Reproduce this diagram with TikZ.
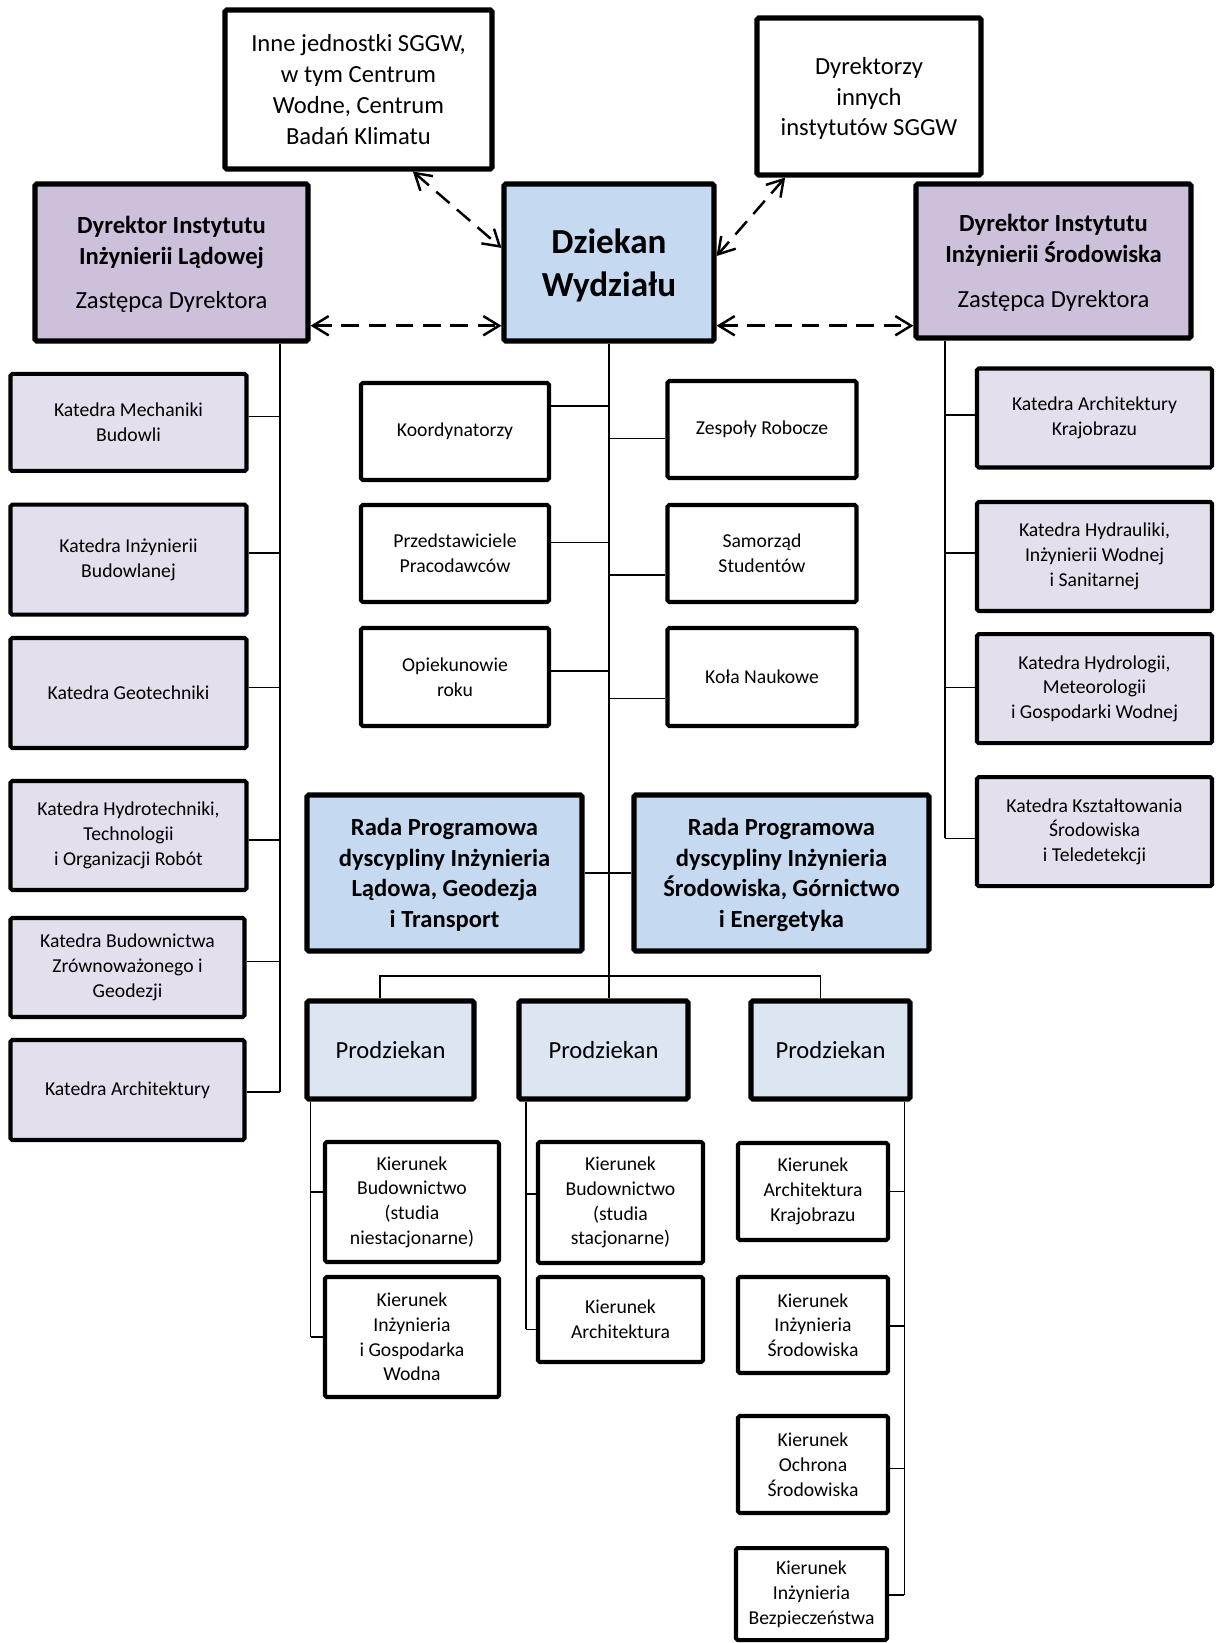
\documentclass[tikz,border=0pt]{standalone}
\usepackage{fontspec}
\setmainfont{Carlito}
\usetikzlibrary{calc,arrows.meta}

\definecolor{instfill}{HTML}{CCC0DA}
\definecolor{katfill}{HTML}{E4DFEC}
\definecolor{deanfill}{HTML}{C5D9F1}
\definecolor{prodfill}{HTML}{DCE6F2}

\tikzset{
	wh/.style 2 args={minimum width=#1*0.02cm, minimum height=#2*0.02cm},
	bigtxt/.style={font=\fontsize{14}{17.5}\selectfont},
	smalltxt/.style={font=\fontsize{11.2}{14.1}\selectfont},
	thickbox/.style={draw, line width=2.9pt, rounded corners=1pt, align=center, inner sep=2pt, text depth=0pt, bigtxt},
	thinbox/.style={draw, line width=2.3pt, rounded corners=1pt, align=center, inner sep=2pt, smalltxt},
	inst/.style={thickbox, fill=instfill},
	dean/.style={thickbox, fill=deanfill},
	prodz/.style={thickbox, fill=prodfill},
	outer/.style={thickbox, fill=white},
	kat/.style={thinbox, fill=katfill},
	cell/.style={thinbox, fill=white},
	conn/.style={line width=0.9pt},
	dlink/.style={line width=1.4pt, dash pattern=on 10pt off 5.5pt,
		{Straight Barb[length=9pt,width=11pt]}-{Straight Barb[length=9pt,width=11pt]}}
}

\def\twig(#1:#2:#3)(#4){%
	\coordinate (#1-t) at ($(#1.north #2)!#3!(#1.south #2)$);
	\draw[conn] (#1-t) -- (#1-t -| #4);}

\begin{document}
\begin{tikzpicture}[x=0.02cm, y=-0.02cm]
			%%%%% START %%%%%
			\useasboundingbox (0,0) rectangle (1215,1643);
			\fill[white] (0,0) rectangle (1215,1643);
			
			% top row
			\node[outer, wh={267}{159}] (inne) at (358.5,89.5) {Inne jednostki SGGW,\\w tym Centrum\\Wodne, Centrum\\Badań Klimatu};
			\node[outer, wh={224}{157}] (dyr) at (869,96.5) {Dyrektorzy\\innych\\instytutów SGGW};
			
			\node[inst, wh={273}{157}] (dil) at (171.5,262.5) {\textbf{Dyrektor Instytutu}\\\textbf{Inżynierii Lądowej}\\[8pt]Zastępca Dyrektora};
			\node[dean, wh={210}{157}, font=\fontsize{20}{24.4}\selectfont\bfseries] (dziekan) at (609,262.5) {Dziekan\\Wydziału};
			\node[inst, wh={275}{154}] (dis) at (1053.5,261) {\textbf{Dyrektor Instytutu}\\\textbf{Inżynierii Środowiska}\\[8pt]Zastępca Dyrektora};
			
			% middle column
			\node[cell, wh={188}{97}] (koord) at (455,431.5) {Koordynatorzy};
			\node[cell, wh={189}{97}] (zesp) at (762,429.5) {Zespoły Robocze};
			\node[cell, wh={188}{97}] (przed) at (455,553.5) {Przedstawiciele\\Pracodawców};
			\node[cell, wh={189}{97}] (samo) at (762,553.5) {Samorząd\\Studentów};
			\node[cell, wh={188}{98}] (opiek) at (455,677) {Opiekunowie\\roku};
			\node[cell, wh={189}{98}] (kola) at (762,677) {Koła Naukowe};
			
			% katedry, left
			\node[kat, wh={236}{97}] (k1) at (128.5,422.4) {Katedra Mechaniki\\Budowli};
			\node[kat, wh={236}{110}] (k2) at (128.5,559.7) {Katedra Inżynierii\\Budowlanej};
			\node[kat, wh={236}{110}] (k3) at (128.5,693) {Katedra Geotechniki};
			\node[kat, wh={236}{109}] (k4) at (128.5,835.5) {Katedra Hydrotechniki,\\Technologii\\i Organizacji Robót};
			\node[kat, wh={234}{99}] (k5) at (127.5,967.5) {Katedra Budownictwa\\Zrównoważonego i\\Geodezji};
			\node[kat, wh={234}{100}] (k6) at (127.5,1090) {Katedra Architektury};
			
			% katedry, right
			\node[kat, wh={235}{99}] (r1) at (1094.5,418) {Katedra Architektury\\Krajobrazu};
			\node[kat, wh={235}{109}] (r2) at (1094.5,556.5) {Katedra Hydrauliki,\\Inżynierii Wodnej\\i Sanitarnej};
			\node[kat, wh={235}{109}] (r3) at (1094.5,688.7) {Katedra Hydrologii,\\Meteorologii\\i Gospodarki Wodnej};
			\node[kat, wh={235}{109}] (r4) at (1094.5,831.7) {Katedra Kształtowania\\Środowiska\\i Teledetekcji};
			
			% rady programowe
			\node[dean, wh={275}{156}, font=\fontsize{14}{17.4}\selectfont\bfseries] (radaL) at (444.5,873) {Rada Programowa\\dyscypliny Inżynieria\\Lądowa, Geodezja\\i Transport};
			\node[dean, wh={295}{156}, font=\fontsize{14}{17.4}\selectfont\bfseries] (radaR) at (781.5,873) {Rada Programowa\\dyscypliny Inżynieria\\Środowiska, Górnictwo\\i Energetyka};
			
			% prodziekani
			\node[prodz, wh={167}{98}] (p1) at (390.5,1050) {Prodziekan};
			\node[prodz, wh={169}{98}] (p2) at (603.5,1050) {Prodziekan};
			\node[prodz, wh={159}{98}] (p3) at (830.5,1050) {Prodziekan};
			
			% kierunki
			\node[cell, wh={174}{120}] (kbn) at (412,1202) {Kierunek\\Budownictwo\\(studia\\niestacjonarne)};
			\node[cell, wh={174}{120}] (kigw) at (412,1337) {Kierunek\\Inżynieria\\i Gospodarka\\Wodna};
			\node[cell, wh={165}{121}] (kbs) at (620.5,1202.5) {Kierunek\\Budownictwo\\(studia\\stacjonarne)};
			\node[cell, wh={165}{85}] (karch) at (620.5,1319.5) {Kierunek\\Architektura};
			\node[cell, wh={150}{97}] (kak) at (813,1191.5) {Kierunek\\Architektura\\Krajobrazu};
			\node[cell, wh={150}{96}] (kis) at (813,1325) {Kierunek\\Inżynieria\\Środowiska};
			\node[cell, wh={150}{97}] (kos) at (813,1464.5) {Kierunek\\Ochrona\\Środowiska};
			\node[cell, wh={151}{92}] (kib) at (811.5,1594) {Kierunek\\Inżynieria\\Bezpieczeństwa};
			
			% dashed links round the dean
			\coordinate (a1) at ($(inne.south west)!0.7!(inne.south east)$);
			\coordinate (a2) at ($(dziekan.north west)!0.41!(dziekan.south west)$);
			\draw[dlink] (a1) -- (a2);
			\coordinate (b1) at ($(dyr.south west)!0.134!(dyr.south east)$);
			\coordinate (b2) at ($(dziekan.north east)!0.46!(dziekan.south east)$);
			\draw[dlink] (b1) -- (b2);
			\coordinate (c1) at ($(dil.north east)!0.89!(dil.south east)$);
			\draw[dlink] (c1) -- (c1 -| dziekan.west);
			\coordinate (d1) at ($(dziekan.north east)!0.89!(dziekan.south east)$);
			\draw[dlink] (d1) -- (d1 -| dis.west);
			
			% left trunk
			\coordinate (ltop) at ($(dil.south west)!0.89!(dil.south east)$);
			\twig(k1:east:0.44)(ltop)
			\twig(k2:east:0.44)(ltop)
			\twig(k3:east:0.45)(ltop)
			\twig(k4:east:0.54)(ltop)
			\twig(k5:east:0.44)(ltop)
			\twig(k6:east:0.52)(ltop)
			\draw[conn] (ltop) -- (ltop |- k6-t);
			
			% right trunk
			\coordinate (rtop) at ($(dis.south west)!0.113!(dis.south east)$);
			\twig(r1:west:0.47)(rtop)
			\twig(r2:west:0.47)(rtop)
			\twig(r3:west:0.49)(rtop)
			\twig(r4:west:0.56)(rtop)
			\draw[conn] (rtop) -- (rtop |- r4-t);
			
			% middle trunk
			\coordinate (mtop) at (dziekan.south);
			\draw[conn] (mtop) -- (mtop |- p2.north);
			\twig(koord:east:0.25)(mtop)
			\twig(zesp:west:0.59)(mtop)
			\twig(przed:east:0.39)(mtop)
			\twig(samo:west:0.71)(mtop)
			\twig(opiek:east:0.44)(mtop)
			\twig(kola:west:0.71)(mtop)
			\draw[conn] (radaL.east) -- (radaR.west);
			
			% bar to the prodziekani
			\coordinate (bar) at ($(radaL.south)!0.5!(p1.north)$);
			\coordinate (p1top) at ($(p1.north west)!0.44!(p1.north east)$);
			\coordinate (p3top) at ($(p3.north west)!0.44!(p3.north east)$);
			\draw[conn] (p1top) |- (bar -| mtop) -| (p3top);
			
			% kierunki under each prodziekan
			\coordinate (p1bot) at ($(p1.south west)!0.036!(p1.south east)$);
			\twig(kbn:west:0.42)(p1bot)
			\twig(kigw:west:0.5)(p1bot)
			\draw[conn] (p1bot) -- (p1bot |- kigw-t);
			
			\coordinate (p2bot) at ($(p2.south west)!0.054!(p2.south east)$);
			\twig(kbs:west:0.43)(p2bot)
			\twig(karch:west:0.61)(p2bot)
			\draw[conn] (p2bot) -- (p2bot |- karch-t);
			
			\coordinate (p3bot) at ($(p3.south west)!0.95!(p3.south east)$);
			\twig(kak:east:0.5)(p3bot)
			\twig(kis:east:0.51)(p3bot)
			\twig(kos:east:0.54)(p3bot)
			\twig(kib:east:0.51)(p3bot)
			\draw[conn] (p3bot) -- (p3bot |- kib-t);
			
			%%%%% END %%%%%
\end{tikzpicture}
\end{document}
